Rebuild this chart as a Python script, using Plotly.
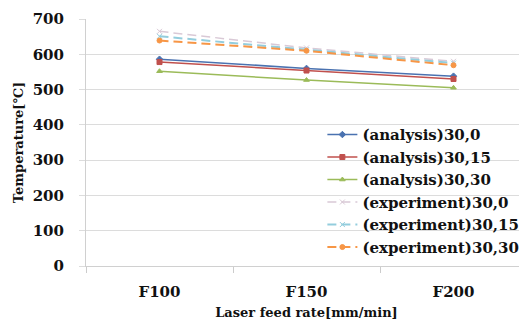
import plotly.graph_objects as go

categories = ["F100", "F150", "F200"]
series_names = ["(analysis)30,0", "(analysis)30,15", "(analysis)30,30",
                "(experiment)30,0", "(experiment)30,15", "(experiment)30,30"]
analysis_30_0 = [586, 560, 538]
analysis_30_15 = [578, 554, 530]
analysis_30_30 = [552, 527, 505]
experiment_30_0 = [665, 618, 580]
experiment_30_15 = [651, 613, 575]
experiment_30_30 = [639, 610, 569]
y_ticks = [0, 100, 200, 300, 400, 500, 600, 700]

values = [analysis_30_0, analysis_30_15, analysis_30_30,
          experiment_30_0, experiment_30_15, experiment_30_30]
colors = ["#4a72b0", "#c0504d", "#9bbb59", "#d9c9d6", "#93cddd", "#f79646"]
dashes = ["solid", "solid", "solid", "9px,5px", "9px,5px", "9px,5px"]
symbols = ["diamond", "square", "triangle-up", "x-thin", "x-thin", "circle"]
widths = [1.5, 1.5, 1.5, 1.5, 2, 2]

font_family = "DejaVu Serif"

fig = go.Figure()
for name, vals, c, d, s, w in zip(series_names, values, colors, dashes, symbols, widths):
    fig.add_trace(go.Scatter(
        x=categories, y=vals, name=name, mode="lines+markers",
        line=dict(color=c, dash=d, width=w),
        marker=dict(symbol=s, size=5, color=c, line=dict(color=c, width=1)),
    ))

fig.update_layout(
    width=519, height=312,
    margin=dict(l=78, r=0, t=11, b=54, autoexpand=False),
    paper_bgcolor="white", plot_bgcolor="white",
    font=dict(family=font_family, color="#111111"),
    showlegend=True,
    legend=dict(
        x=0.536, y=0.598, xanchor="left", yanchor="top",
        bgcolor="rgba(255,255,255,0)",
        font=dict(size=15, family=font_family, color="#111111", weight="bold"),
        tracegroupgap=0, itemwidth=30,
    ),
)
fig.update_xaxes(
    type="category", tickson="boundaries", ticks="outside", ticklen=6,
    tickcolor="#cccccc", showgrid=False, showline=True, linecolor="#d0d0d0",
    automargin=False, ticklabelstandoff=12,
    tickfont=dict(size=15, family=font_family, weight="bold", color="#111111"),
    title=dict(text="Laser feed rate[mm/min]", standoff=7,
               font=dict(size=13, family=font_family, weight="bold", color="#111111")),
    range=[-0.5, 2.5],
)
fig.update_yaxes(
    range=[0, 700], tickvals=y_ticks, showgrid=True, gridcolor="#dcdcdc",
    showline=True, linecolor="#d0d0d0", ticks="outside", ticklen=6, tickcolor="#dcdcdc",
    zeroline=False, automargin=False, ticklabelstandoff=12,
    tickfont=dict(size=15, family=font_family, weight="bold", color="#111111"),
    title=dict(text="Temperature[℃]", standoff=6,
               font=dict(size=13, family=font_family, weight="bold", color="#111111")),
)

fig.write_html("out.html")
